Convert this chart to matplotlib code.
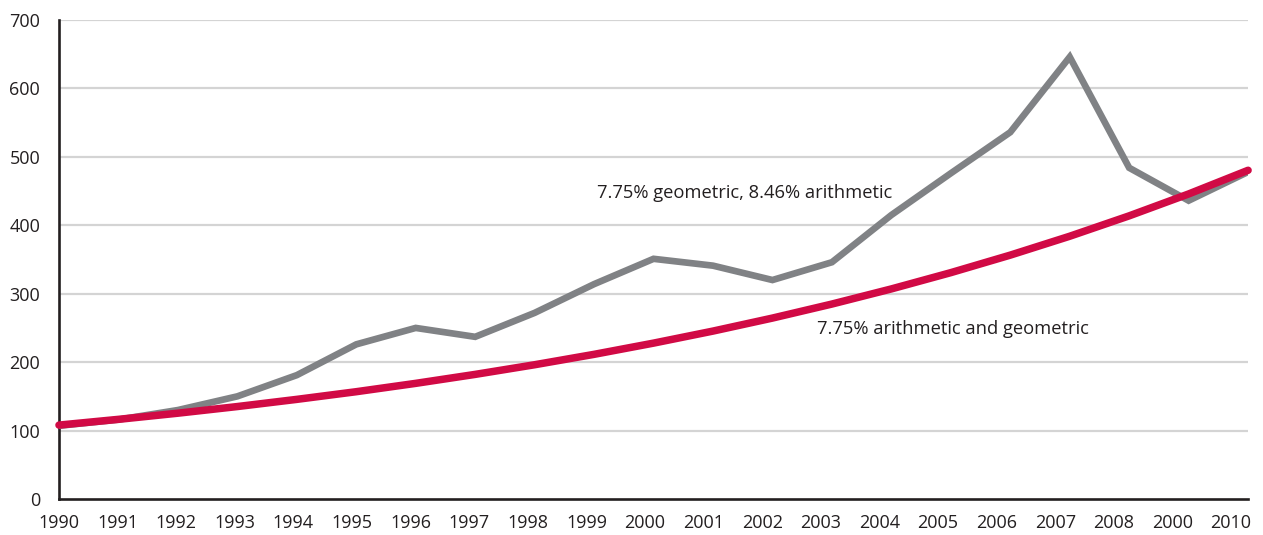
import matplotlib
matplotlib.use("Agg")
import matplotlib.pyplot as plt

years = list(range(1990, 2011))
year_labels = ["1990", "1991", "1992", "1993", "1994", "1995", "1996", "1997", "1998", "1999",
               "2000", "2001", "2002", "2003", "2004", "2005", "2006", "2007", "2008", "2000", "2010"]
actual = [107, 116, 130, 150, 181, 226, 250, 237, 272, 314,
          351, 341, 320, 346, 415, 476, 536, 646, 484, 436, 478]
constant = [108, 116.4, 125.4, 135.1, 145.6, 156.8, 169.0, 182.1, 196.2, 211.4,
            227.8, 245.4, 264.4, 284.9, 307.0, 330.8, 356.4, 384.0, 413.8, 445.8, 480.4]

GRAY, RED, GRID, AXIS = "#808285", "#d10a45", "#d4d4d4", "#231f20"

plt.rcParams["font.family"] = ["Open Sans", "DejaVu Sans"]

fig = plt.figure(figsize=(12.63, 5.35), dpi=100)
ax = fig.add_axes([0.0467, 0.0673, 0.9415, 0.8953])

for v in range(100, 701, 100):
    ax.axhline(v, color=GRID, lw=1.6, zorder=1)

ax.plot(years, actual, color=GRAY, lw=4.8, solid_joinstyle="miter", zorder=3)
ax.plot(years, constant, color=RED, lw=5.4, solid_capstyle="round", zorder=4, clip_on=False)

ax.text(1999.05, 447, "7.75% geometric, 8.46% arithmetic", fontsize=13.2, color=AXIS, va="center")
ax.text(2002.75, 248, "7.75% arithmetic and geometric", fontsize=13.2, color=AXIS, va="center")

ax.set_xlim(1990, 2010)
ax.set_ylim(0, 700)
ax.set_xticks([])
ax.set_yticks(range(0, 701, 100))
ax.tick_params(length=0, labelsize=13, labelcolor=AXIS)
ax.tick_params(axis="y", pad=13.5)

# the year labels in the original are spaced a touch tighter than the data,
# so they sit on a slightly squeezed secondary axis
squeeze = 0.9857
sec = ax.secondary_xaxis("bottom", functions=(lambda x: 1990 + (x - 1990) / squeeze,
                                               lambda s: 1990 + (s - 1990) * squeeze))
sec.set_xticks(years)
sec.set_xticklabels(year_labels)
sec.tick_params(length=0, labelsize=13, labelcolor=AXIS, pad=11)
sec.spines["bottom"].set_visible(False)

for s in ("top", "right"):
    ax.spines[s].set_visible(False)
for s in ("left", "bottom"):
    ax.spines[s].set_color(AXIS)
    ax.spines[s].set_linewidth(1.9)

fig.savefig("out.png", dpi=100, facecolor="white")
